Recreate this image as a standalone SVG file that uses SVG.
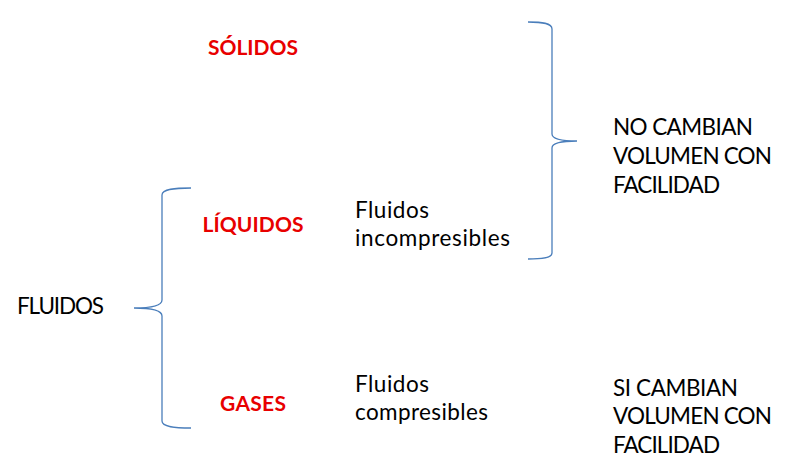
<svg xmlns="http://www.w3.org/2000/svg" width="799" height="476" viewBox="0 0 799 476">
<style>
.t{font-family:Lato,"Open Sans","Liberation Sans",sans-serif;font-size:22.5px;fill:#000}
.r{font-family:Lato,"Open Sans","Liberation Sans",sans-serif;font-size:21px;font-weight:bold;fill:#E80000;text-anchor:middle}
.b{fill:none;stroke:#4A7EBB;stroke-width:1.3}
</style>
<rect width="799" height="476" fill="#fff"/>
<g id="connectors">
<path class="b" d="M191,188 C175,188 162,189 162,195 L162,300 C162,306 150,308 134,308 C150,308 162,310 162,316 L162,421 C162,427 175,428 191,428"/>
<path class="b" d="M528,22 C542,22 552,23 552,29 L552,134 C552,139 562,141 577,141 C562,141 552,143 552,148 L552,253 C552,258 542,259 528,259"/>
</g>
<g id="fluidos"><text class="t" x="17" y="314" textLength="87">FLUIDOS</text></g>
<g id="solidos"><text class="r" x="253" y="55" textLength="90">SÓLIDOS</text></g>
<g id="liquidos"><text class="r" x="253" y="232" textLength="101">LÍQUIDOS</text></g>
<g id="gases"><text class="r" x="253" y="411" textLength="66">GASES</text></g>
<g id="incompresibles">
<text class="t" x="355" y="218" textLength="74">Fluidos</text>
<text class="t" x="355" y="246" textLength="155">incompresibles</text>
</g>
<g id="compresibles">
<text class="t" x="355" y="392" textLength="74">Fluidos</text>
<text class="t" x="355" y="420" textLength="133">compresibles</text>
</g>
<g id="no-cambian">
<text class="t" x="613" y="135" textLength="140">NO CAMBIAN</text>
<text class="t" x="613" y="164" textLength="159">VOLUMEN CON</text>
<text class="t" x="613" y="193" textLength="107">FACILIDAD</text>
</g>
<g id="si-cambian">
<text class="t" x="613" y="396" textLength="125">SI CAMBIAN</text>
<text class="t" x="613" y="424" textLength="159">VOLUMEN CON</text>
<text class="t" x="613" y="453" textLength="107">FACILIDAD</text>
</g>
</svg>
